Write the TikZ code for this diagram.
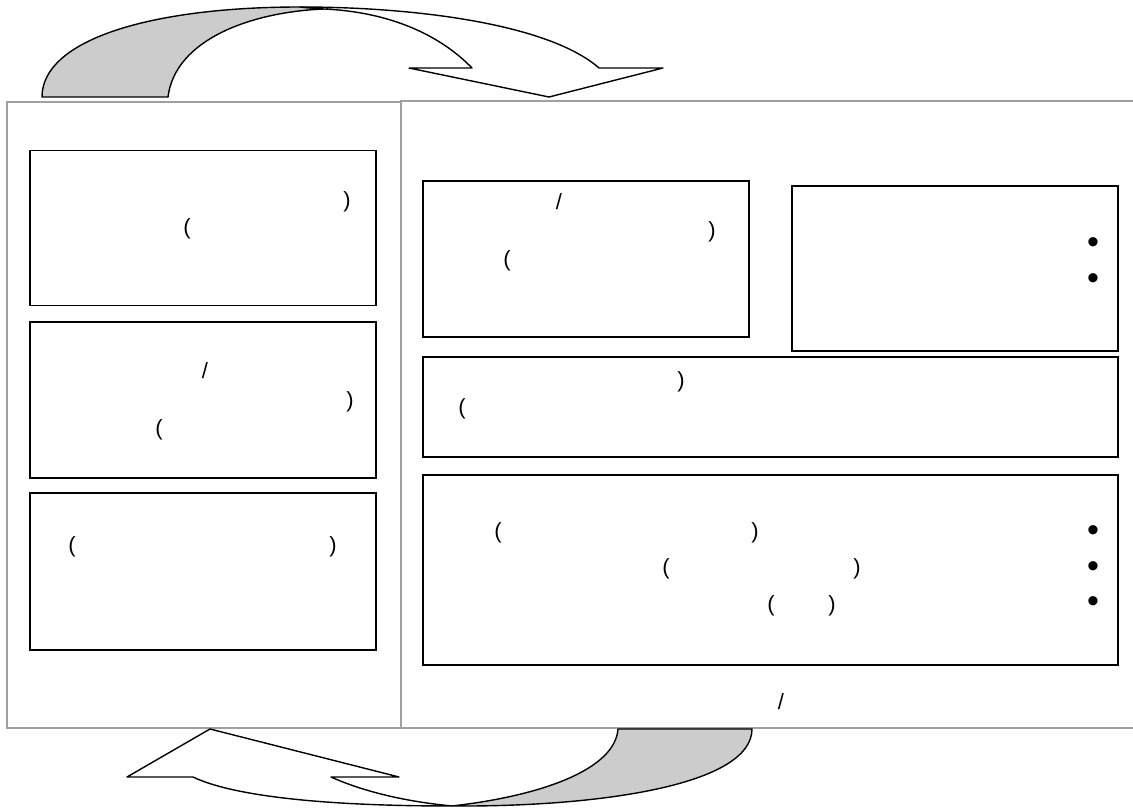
\documentclass[tikz,border=0pt]{standalone}
\usepackage{fontspec}
\setmainfont{Liberation Sans}
\definecolor{shade}{HTML}{CCCCCC}
\definecolor{framegray}{HTML}{A0A0A0}
\begin{document}
\begin{tikzpicture}[x=1pt,y=-1pt,
  panel/.style={draw=framegray, line width=1.5pt, inner sep=0pt, fill=none},
  box/.style={draw=black, line width=1.6pt, inner sep=0pt, fill=white},
  txt/.style={font=\fontsize{22}{26}\selectfont, inner sep=0pt},
  bul/.style={font=\fontsize{34}{36}\selectfont, inner sep=0pt},
  band/.style={draw=black, line width=1.4pt, line join=round}]
\useasboundingbox (0,0) rectangle (1133,810);
% panels
\node[panel, minimum width=394pt, minimum height=626pt] (P1) at (204,415) {};
\node[panel, minimum width=740pt, minimum height=627pt] (P2) at (771,414.5) {};
% left boxes
\node[box, minimum width=346pt, minimum height=155pt] (L1) at (203,228) {};
\node[box, minimum width=346pt, minimum height=156pt] (L2) at (203,400) {};
\node[box, minimum width=346pt, minimum height=157pt] (L3) at (203,571.5) {};
% right boxes
\node[box, minimum width=326pt, minimum height=156pt] (R1) at (586,259) {};
\node[box, minimum width=326pt, minimum height=165pt] (R2) at (955,268.5) {};
\node[box, minimum width=695pt, minimum height=100pt] (R3) at (770.5,407) {};
\node[box, minimum width=695pt, minimum height=190pt] (R4) at (770.5,570) {};
% texts
\node[txt] (a1) at (347,202) {)};
\node[txt] (a2) at (187,229) {(};
\node[txt] (b1) at (205,371) {/};
\node[txt] (b2) at (350,402) {)};
\node[txt] (b3) at (159,430) {(};
\node[txt] (c1) at (72,547) {(};
\node[txt] (c2) at (333,547) {)};
\node[txt] (d1) at (559,202) {/};
\node[txt] (d2) at (712,232) {)};
\node[txt] (d3) at (507,261) {(};
\node[bul] (e1) at (1093,246) {•};
\node[bul] (e2) at (1093,282) {•};
\node[txt] (f1) at (681,382) {)};
\node[txt] (f2) at (462,409) {(};
\node[txt] (g1) at (498,533) {(};
\node[txt] (g2) at (755,533) {)};
\node[txt] (g3) at (666,569) {(};
\node[txt] (g4) at (857,569) {)};
\node[txt] (g5) at (771,606) {(};
\node[txt] (g6) at (832,606) {)};
\node[bul] (h1) at (1093,534) {•};
\node[bul] (h2) at (1093,570) {•};
\node[bul] (h3) at (1093,605) {•};
\node[txt] (k1) at (781,702) {/};
% top curved arrow
\filldraw[band, fill=shade] (42,97) .. controls (42,40) and (150,7) .. (300,7) -- (324,9) .. controls (250,12) and (175,40) .. (168,97) -- cycle;
\filldraw[band, fill=white] (324,9) .. controls (390,12) and (440,35) .. (472,68) -- (409,68) -- (549,97) -- (663,68) -- (599,68) .. controls (550,25) and (420,7) .. (300,7) -- cycle;
% bottom curved arrow
\filldraw[band, fill=shade] (618,729) -- (752,729) .. controls (752,785) and (600,807) .. (452,806) .. controls (540,796) and (615,770) .. (618,729) -- cycle;
\filldraw[band, fill=white] (452,806) .. controls (330,806) and (235,797) .. (193,777) -- (127,777) -- (210,729) -- (399,777) -- (331,777) .. controls (360,790) and (400,801) .. (452,806) -- cycle;
\end{tikzpicture}
\end{document}
